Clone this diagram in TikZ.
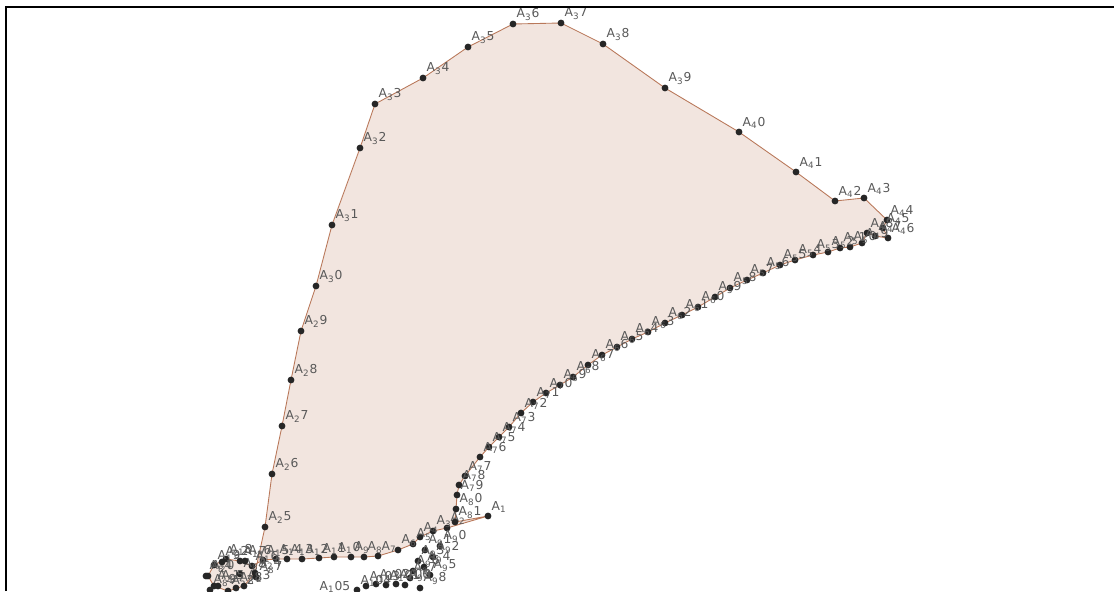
\documentclass[tikz,border=0pt]{standalone}
\usepackage{fontspec}
\setmainfont{DejaVu Sans}
\definecolor{polyfill}{RGB}{242,229,223}
\definecolor{polyedge}{RGB}{185,120,90}
% label A_25 printed as A, subscript 2, then 5
\def\ptlabsplit#1#2\relax{A\textsubscript{#1}#2}
\newcommand\ptlab[1]{\expandafter\ptlabsplit#1\relax}
\begin{document}
\begin{tikzpicture}[x=0.02cm,y=-0.02cm,
  pt/.style={circle,fill=black!85,inner sep=0pt,minimum size=3.9pt},
  lbl/.style={font=\fontsize{7}{8}\selectfont,text=black!65,inner sep=0.4pt},
  poly/.style={fill=polyfill,draw=polyedge,line width=0.5pt}]
  \useasboundingbox (0,0) rectangle (1114,591);
  \clip (0,0) rectangle (1114,591);
  % vertices
  \foreach \x/\y [count=\i] in {488/516,447/528,433/531,420/537,413/544,398/550,
      378/556,364/557,351/557,334/557,319/558,302/559,287/559,276/559,263/560,
      252/566,240/561,226/559,214/565,208/576,214/586,228/591,244/586,255/573,
      265/527,272/474,282/426,291/380,301/331,316/286,332/225,360/148,375/104,
      423/78,468/47,513/24,561/23,603/44,665/88,739/132,796/172,835/201,864/198,
      887/220,883/228,888/238,875/236,867/233,862/243,850/247,840/248,828/252,
      813/255,795/260,780/265,763/273,747/280,730/288,715/297,698/307,682/315,
      665/323,648/332,632/339,617/347,602/355,588/365,573/377,560/385,546/393,
      533/402,521/413,509/427,499/437,489/447,480/457,465/476,459/485,457/495,
      456/509,455/522,
      222/562,240/574,206/576,218/586,245/561,256/577,236/588,210/590,
      440/546,425/550,433/557,418/561,424/567,430/575,413/571,410/578,420/588,
      405/585,396/584,386/585,376/584,366/586,357/590,316/596}
    \coordinate (A\i) at (\x,\y);
  % polygon
  \path[poly] (A1) \foreach \i in {2,...,81}{-- (A\i)} -- cycle;
  % points
  \foreach \i in {1,...,105}
    \node[pt,label={[lbl]above right:\ptlab{\i}}] (d\i) at (A\i) {};
  % frame
  \draw[line width=1.4pt] (6,591) -- (6,7) -- (1114,7);
\end{tikzpicture}
\end{document}
